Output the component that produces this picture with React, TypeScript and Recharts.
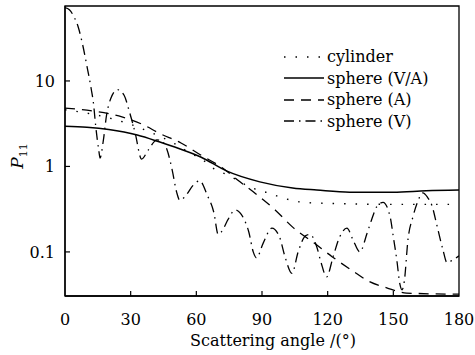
import React from 'react';
import { LineChart, Line, XAxis, YAxis, ReferenceArea, Label } from 'recharts';

// scattering angle (deg) and P11 values
const cylAngle = [0, 10, 20, 30, 40, 50, 57, 63, 67, 75, 83, 88, 93, 98, 104, 109, 120, 150, 180];
const cylP11 = [4.6, 4.2, 3.7, 3.1, 2.45, 1.85, 1.44, 1.19, 0.98, 0.78, 0.6, 0.53, 0.49, 0.44, 0.4, 0.38, 0.37, 0.36, 0.36];

const vaAngle = [0, 10, 20, 33, 43, 52, 62, 74, 89, 104, 115, 130, 150, 165, 180];
const vaP11 = [2.95, 2.87, 2.7, 2.33, 1.94, 1.62, 1.29, 0.88, 0.66, 0.56, 0.53, 0.5, 0.5, 0.52, 0.53];

const aAngle = [0, 10, 20, 26, 36, 43, 53, 62, 72, 79, 88, 96, 104, 114, 122, 131, 139, 147, 156, 180];
const aP11 = [4.8, 4.55, 4.15, 3.8, 3.05, 2.45, 1.88, 1.36, 0.96, 0.69, 0.46, 0.31, 0.195, 0.126, 0.088, 0.061, 0.045, 0.038, 0.033, 0.032];

const vAngle = [
  0, 2, 4, 6, 8, 10, 12, 13, 14, 15.5, 16, 17.5, 19, 21, 24, 27, 29.5, 32, 35, 38, 42, 44, 46.5, 49, 51,
  52.5, 55, 58.5, 61.5, 65, 68, 70, 72, 74.5, 77.7, 81.5, 84, 86, 87.5, 90.5, 94.5, 98, 100.5, 103.7,
  106.5, 110, 112, 115, 117, 119.5, 122.5, 125.5, 128.8, 131.5, 134.7, 138, 140, 142.5, 145.3, 148.5,
  150, 151.6, 153, 154, 155, 156.7, 159, 161, 163.5, 165.5, 167.6, 170, 172.7, 174.5, 177, 180,
];
const vP11 = [
  72, 68, 57, 43, 27, 15, 8, 5.5, 3, 1.5, 1.25, 2, 4, 6.3, 7.9, 6.8, 4.3, 2.5, 1.22, 1.55, 2.05, 2.0, 1.6, 0.9, 0.5,
  0.4, 0.45, 0.6, 0.68, 0.46, 0.29, 0.16, 0.18, 0.24, 0.31, 0.25, 0.17, 0.1, 0.085, 0.126, 0.19, 0.15, 0.088, 0.056,
  0.1, 0.155, 0.16, 0.115, 0.075, 0.051, 0.088, 0.15, 0.19, 0.14, 0.1, 0.165, 0.235, 0.34, 0.38, 0.26,
  0.15, 0.08, 0.042, 0.036, 0.045, 0.14, 0.26, 0.38, 0.49, 0.44, 0.35, 0.2, 0.105, 0.075, 0.08, 0.09,
];

const xTicks = [0, 30, 60, 90, 120, 150, 180];
const yTicks = [0.1, 1, 10];
const yDomain = [0.0305, 75.3];

const toRows = (xs: number[], ys: number[]) => xs.map((a, i) => ({ angle: a, p: ys[i] }));

const series = [
  { name: 'cylinder', data: toRows(cylAngle, cylP11), dash: '1.5 10', width: 1.4 },
  { name: 'sphere (V/A)', data: toRows(vaAngle, vaP11), dash: undefined, width: 1.5 },
  { name: 'sphere (A)', data: toRows(aAngle, aP11), dash: '10 7', width: 1.3 },
  { name: 'sphere (V)', data: toRows(vAngle, vP11), dash: '10 5 1.5 5', width: 1.3 },
];

const FONT = '"DejaVu Serif", serif';

const XTick = (props: any) => {
  const { x, y, payload } = props;
  return (
    <g>
      {payload.value !== 0 && payload.value !== 180 && (
        <line x1={x} x2={x} y1={y} y2={y - 5} stroke="#000" strokeWidth={1.2} />
      )}
      <text x={x} y={y + 29} textAnchor="middle" fontFamily={FONT} fontSize={16} fill="#000">
        {payload.value}
      </text>
    </g>
  );
};

const YTick = (props: any) => {
  const { x, y, payload } = props;
  return (
    <g>
      <line x1={x} x2={x + 5} y1={y} y2={y} stroke="#000" strokeWidth={1.2} />
      <text x={x - 10} y={y + 6} textAnchor="end" fontFamily={FONT} fontSize={16} fill="#000">
        {payload.value}
      </text>
    </g>
  );
};

const LegendBox = () => (
  <div
    style={{
      position: 'absolute',
      left: 284,
      top: 46,
      fontFamily: FONT,
      fontSize: 16,
      lineHeight: '21.5px',
      color: '#000',
    }}
  >
    {series.map((s) => (
      <div key={s.name} style={{ display: 'flex', alignItems: 'center', height: 21.5 }}>
        <svg width={43} height={10}>
          <line x1={0} x2={40} y1={5} y2={5} stroke="#000" strokeWidth={s.width} strokeDasharray={s.dash} />
        </svg>
        <span>{s.name}</span>
      </div>
    ))}
  </div>
);

export default function App() {
  return (
    <div style={{ position: 'absolute', left: 0, top: 0, width: 475, height: 355, background: '#fff' }}>
      <LineChart width={475} height={355} margin={{ top: 6, right: 16, bottom: 0, left: 0 }}>
        <XAxis
          dataKey="angle"
          type="number"
          domain={[0, 180]}
          ticks={xTicks}
          allowDataOverflow
          height={59}
          tickSize={0}
          tickMargin={0}
          tick={<XTick />}
          stroke="#000"
          strokeWidth={1.3}
        >
          <Label
            content={(p: any) => {
              const vb = p.viewBox;
              return (
                <text x={vb.x + vb.width / 2 + 11} y={vb.y + 50} textAnchor="middle" fontFamily={FONT} fontSize={16} fill="#000">
                  Scattering angle /(°)
                </text>
              );
            }}
          />
        </XAxis>
        <YAxis
          dataKey="p"
          scale="log"
          domain={yDomain}
          ticks={yTicks}
          allowDataOverflow
          width={65}
          tickSize={0}
          tickMargin={0}
          tick={<YTick />}
          stroke="#000"
          strokeWidth={1.3}
        >
          <Label
            content={() => (
              <text
                x={0}
                y={0}
                transform="translate(23 156) rotate(-90)"
                textAnchor="middle"
                fontFamily={FONT}
                fontSize={17}
                fill="#000"
              >
                <tspan fontStyle="italic">P</tspan>
                <tspan fontSize={11} dy={4}>11</tspan>
              </text>
            )}
          />
        </YAxis>
        <ReferenceArea x1={0} x2={180} y1={yDomain[0]} y2={yDomain[1]} fill="none" stroke="#000" strokeWidth={1.3} />
        {series.map((s) => (
          <Line
            key={s.name}
            data={s.data}
            dataKey="p"
            name={s.name}
            type="monotone"
            stroke="#000"
            strokeWidth={s.width}
            strokeDasharray={s.dash}
            dot={false}
            activeDot={false}
            isAnimationActive={false}
          />
        ))}
      </LineChart>
      <LegendBox />
    </div>
  );
}
